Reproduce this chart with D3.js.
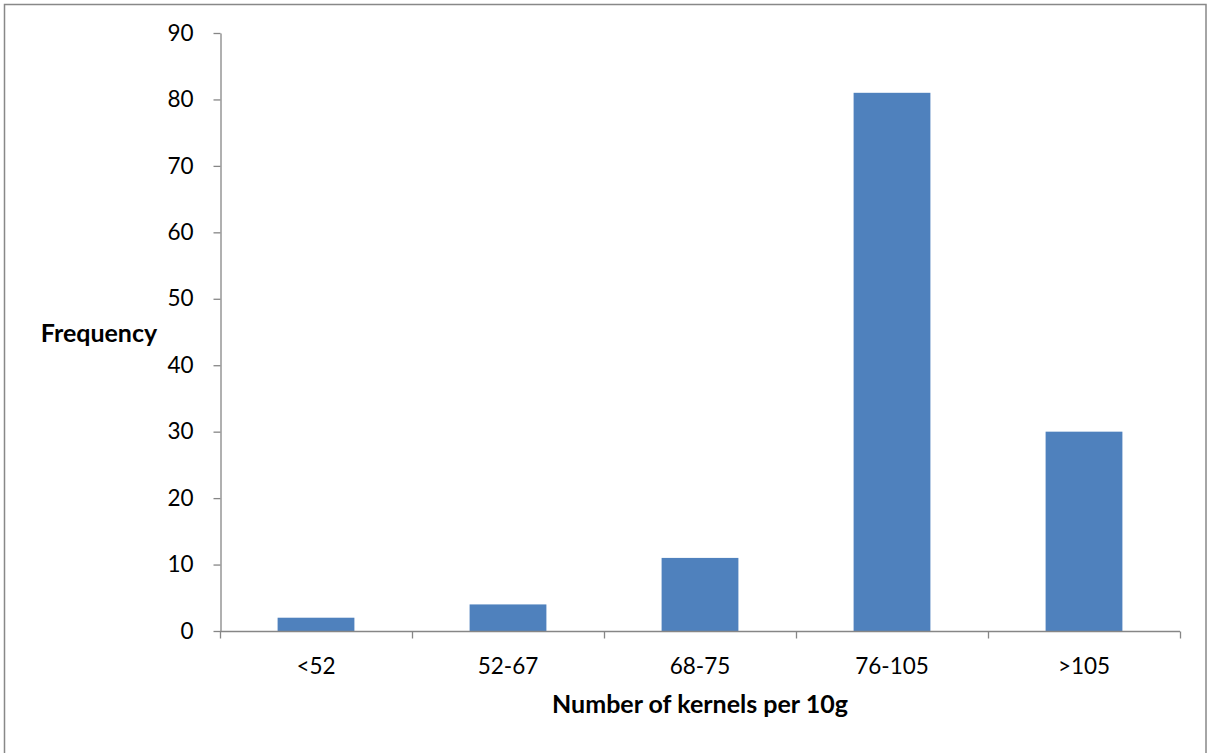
<!DOCTYPE html>
<html>
<head>
<meta charset="utf-8">
<script src="https://cdn.jsdelivr.net/npm/d3@7"></script>
<style>
  html, body { margin: 0; padding: 0; background: #fff; }
  svg { display: block; }
  text { font-family: Lato, "Open Sans", sans-serif; fill: #000; }
</style>
</head>
<body>
<svg id="chart" width="1207" height="753"></svg>
<script>
const categories = ["<52", "52-67", "68-75", "76-105", ">105"];
const frequencies = [2, 4, 11, 81, 30];
const yTicks = [0, 10, 20, 30, 40, 50, 60, 70, 80, 90];
const xTitle = "Number of kernels per 10g";
const yTitle = "Frequency";

const W = 1207, H = 753;
const margin = { left: 220, right: 27, top: 33, bottom: 122 };
const svg = d3.select("#chart");

// outer frame
svg.append("rect")
  .attr("x", 4.5).attr("y", 4.5)
  .attr("width", 1201.5).attr("height", 780)
  .attr("fill", "#fff")
  .attr("stroke", "#888").attr("stroke-width", 1.5);

const x = d3.scaleBand()
  .domain(categories)
  .range([margin.left, W - margin.right])
  .paddingInner(0.6).paddingOuter(0.3);

const xTicksScale = d3.scaleLinear().domain([0, categories.length]).range([margin.left, W - margin.right]);

const y = d3.scaleLinear()
  .domain([0, 90])
  .range([H - margin.bottom, margin.top]);

// bars
svg.append("g").selectAll("rect")
  .data(frequencies)
  .join("rect")
  .attr("x", (d, i) => x(categories[i]))
  .attr("y", d => y(d))
  .attr("width", x.bandwidth())
  .attr("height", d => y(0) - y(d))
  .attr("fill", "#4F81BD");

// y axis
const yAxis = d3.axisLeft(y).tickValues(yTicks).tickSize(7).tickPadding(20).tickSizeOuter(0);
const gy = svg.append("g").attr("transform", `translate(${margin.left + 0.5},0)`).call(yAxis);
gy.select(".domain").attr("stroke", "#868686").attr("stroke-width", 1.3);
gy.selectAll(".tick line").attr("stroke", "#868686").attr("stroke-width", 1.3);
gy.selectAll(".tick text").attr("font-size", 22.5).attr("font-family", "Lato, sans-serif").attr("fill", "#000");

// x axis: baseline with boundary ticks
const gx = svg.append("g").attr("transform", `translate(0,${y(0) + 0.5})`);
gx.append("line")
  .attr("x1", margin.left).attr("x2", W - margin.right)
  .attr("stroke", "#868686").attr("stroke-width", 1.3);
gx.selectAll("line.bt")
  .data(d3.range(categories.length + 1))
  .join("line").attr("class", "bt")
  .attr("x1", d => Math.round(xTicksScale(d)) + 0.5)
  .attr("x2", d => Math.round(xTicksScale(d)) + 0.5)
  .attr("y1", 0).attr("y2", 7)
  .attr("stroke", "#868686").attr("stroke-width", 1.3);
gx.selectAll("text")
  .data(categories)
  .join("text")
  .attr("x", d => x(d) + x.bandwidth() / 2)
  .attr("y", 42)
  .attr("text-anchor", "middle")
  .attr("font-size", 22.5)
  .text(d => d);

// axis titles
svg.append("text")
  .attr("x", 99).attr("y", 342)
  .attr("text-anchor", "middle")
  .attr("font-size", 25).attr("font-weight", "bold")
  .text(yTitle);

svg.append("text")
  .attr("x", 700).attr("y", 713)
  .attr("text-anchor", "middle")
  .attr("font-size", 25).attr("font-weight", "bold")
  .text(xTitle);
</script>
</body>
</html>
